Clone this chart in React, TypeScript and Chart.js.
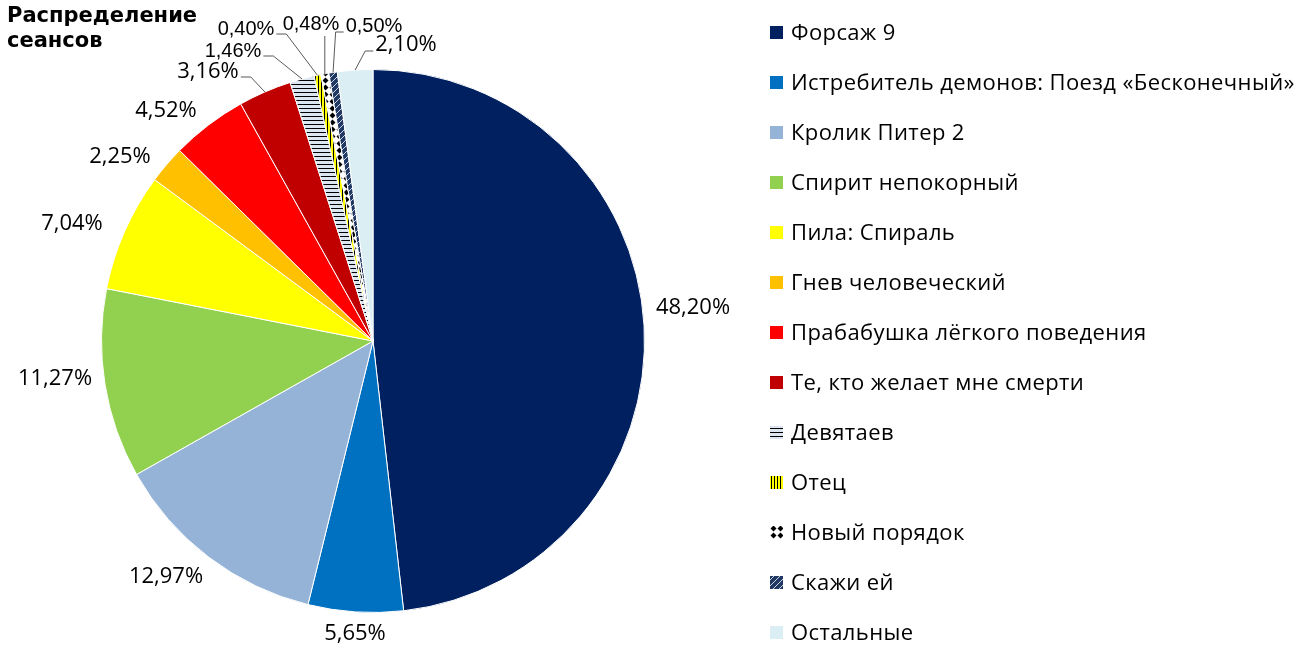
import React, { useEffect, useRef } from "react";
import { Chart, registerables } from "chart.js";

Chart.register(...registerables);

// ---------- data ----------
const TITLE_LINES = ["Распределение", "сеансов"];

const categories = [
  "Форсаж 9",
  "Истребитель демонов: Поезд «Бесконечный»",
  "Кролик Питер 2",
  "Спирит непокорный",
  "Пила: Спираль",
  "Гнев человеческий",
  "Прабабушка лёгкого поведения",
  "Те, кто желает мне смерти",
  "Девятаев",
  "Отец",
  "Новый порядок",
  "Скажи ей",
  "Остальные",
];

const shares = [48.2, 5.65, 12.97, 11.27, 7.04, 2.25, 4.52, 3.16, 1.46, 0.4, 0.48, 0.5, 2.1];

const shareLabels = ["48,20%", "5,65%", "12,97%", "11,27%", "7,04%", "2,25%", "4,52%", "3,16%", "1,46%", "0,40%", "0,48%", "0,50%", "2,10%"];

// fill: solid colour or pattern name
const fills = [
  "#002060",
  "#0070c0",
  "#95b3d7",
  "#92d050",
  "#ffff00",
  "#ffc000",
  "#ff0000",
  "#c00000",
  "pattern:hlines",
  "pattern:vlines",
  "pattern:diamonds",
  "pattern:diag",
  "#daeef3",
];

// ---------- label layout (offset of label centre from pie centre) ----------
const LABEL_OFFSETS: [number, number][] = [
  [320, -33],
  [-18, 293],
  [-207, 236],
  [-318, 38],
  [-301, -117],
  [-253, -184],
  [-207, -230],
  [-165, -269],
  [-140, -290],
  [-127, -312],
  [-62, -317],
  [1, -315],
  [33, -296],
];
const SMALL_LABELS = [8, 9, 10, 11];
const LEADER_LABELS = [7, 8, 9, 10, 11, 12];

function makePattern(kind: string): CanvasPattern | string {
  const c = document.createElement("canvas");
  const g = c.getContext("2d")!;
  if (kind === "hlines") {
    c.width = 4; c.height = 4;
    g.fillStyle = "#dce6f2"; g.fillRect(0, 0, 4, 4);
    g.fillStyle = "#000000"; g.fillRect(0, 0, 4, 1);
  } else if (kind === "vlines") {
    c.width = 3; c.height = 3;
    g.fillStyle = "#ffff00"; g.fillRect(0, 0, 3, 3);
    g.fillStyle = "#000000"; g.fillRect(0, 0, 1, 3);
  } else if (kind === "diamonds") {
    c.width = 7; c.height = 7;
    g.fillStyle = "#ffffff"; g.fillRect(0, 0, 7, 7);
    g.fillStyle = "#000000";
    g.beginPath();
    g.moveTo(3.5, 0.5); g.lineTo(6.5, 3.5); g.lineTo(3.5, 6.5); g.lineTo(0.5, 3.5);
    g.closePath(); g.fill();
  } else if (kind === "diag") {
    c.width = 6; c.height = 6;
    g.fillStyle = "#1f3864"; g.fillRect(0, 0, 6, 6);
    g.strokeStyle = "#ffffff"; g.lineWidth = 0.8;
    g.beginPath();
    g.moveTo(0, 6); g.lineTo(6, 0);
    g.moveTo(-1, 1); g.lineTo(1, -1);
    g.moveTo(5, 7); g.lineTo(7, 5);
    g.stroke();
  }
  return g.createPattern(c, "repeat") || "#cccccc";
}

export default function App() {
  const canvasRef = useRef<HTMLCanvasElement | null>(null);

  useEffect(() => {
    if (!canvasRef.current) return;
    const bg = fills.map((f) => (f.startsWith("pattern:") ? makePattern(f.slice(8)) : f));

    const overlay = {
      id: "overlay",
      afterDraw(chart: any) {
        const ctx: any = chart.ctx;
        const meta = chart.getDatasetMeta(0);
        ctx.save();

        // title
        ctx.fillStyle = "#000000";
        ctx.textAlign = "left";
        ctx.textBaseline = "alphabetic";
        ctx.font = 'bold 21px "DejaVu Sans"';
        ctx.fillText(TITLE_LINES[0], 7, 22);
        ctx.fillText(TITLE_LINES[1], 7, 47);

        // value labels + leader lines
        meta.data.forEach((arc: any, i: number) => {
          const p = arc.getProps(["x", "y", "startAngle", "endAngle", "outerRadius"], true);
          const mid = (p.startAngle + p.endAngle) / 2;
          const lx = p.x + LABEL_OFFSETS[i][0];
          const ly = p.y + LABEL_OFFSETS[i][1];
          const small = SMALL_LABELS.includes(i);
          ctx.font = small ? '20px "Liberation Sans Narrow", "Liberation Sans"' : '22px "Open Sans"';
          ctx.textAlign = "center";
          ctx.textBaseline = "middle";
          ctx.fillStyle = "#000000";
          ctx.fillText(shareLabels[i], lx, ly);

          if (LEADER_LABELS.includes(i)) {
            const w = ctx.measureText(shareLabels[i]).width;
            const px = p.x + Math.cos(mid) * p.outerRadius;
            const py = p.y + Math.sin(mid) * p.outerRadius;
            ctx.strokeStyle = "#595959";
            ctx.lineWidth = 1;
            ctx.beginPath();
            if (Math.abs(px - lx) < w / 2) {
              ctx.moveTo(px, ly + 12);
              ctx.lineTo(px, py);
            } else if (px > lx) {
              const sx = lx + w / 2 + 2;
              ctx.moveTo(sx, ly + 5);
              ctx.lineTo(sx + 10, ly + 5);
              ctx.lineTo(px, py);
            } else {
              const sx = lx - w / 2 - 2;
              ctx.moveTo(sx, ly + 6);
              ctx.lineTo(sx - 8, ly + 6);
              ctx.lineTo(px, py);
            }
            ctx.stroke();
          }
        });

        // legend
        categories.forEach((name, i) => {
          const cy = 32.5 + i * 50;
          ctx.fillStyle = bg[i];
          ctx.fillRect(770, cy - 6.5, 13, 13);
          ctx.fillStyle = "#000000";
          ctx.font = '22px "Open Sans"';
          ctx.letterSpacing = "0.4px";
          ctx.textAlign = "left";
          ctx.textBaseline = "middle";
          ctx.fillText(name, 791, cy + 1);
        });
        ctx.letterSpacing = "0px";

        ctx.restore();
      },
    };

    const chart = new Chart(canvasRef.current, {
      type: "pie",
      data: {
        labels: categories,
        datasets: [
          {
            data: shares,
            backgroundColor: bg as any,
            borderColor: "#ffffff",
            borderWidth: 1,
          },
        ],
      },
      options: {
        animation: false,
        responsive: true,
        maintainAspectRatio: false,
        layout: { padding: { left: 101, right: 666, top: 69, bottom: 51 } },
        plugins: {
          legend: { display: false },
          tooltip: { enabled: false },
          title: { display: false },
        },
      },
      plugins: [overlay],
    });

    return () => chart.destroy();
  }, []);

  return (
    <div style={{ position: "fixed", left: 0, top: 0, width: 1311, height: 664, background: "#ffffff" }}>
      <canvas ref={canvasRef} />
    </div>
  );
}
